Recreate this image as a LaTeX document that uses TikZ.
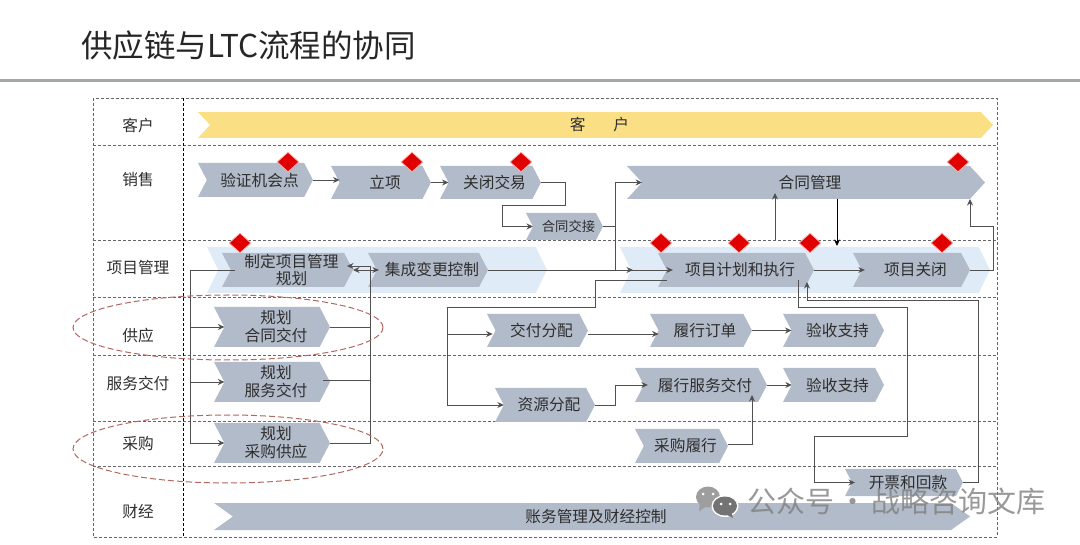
\documentclass[tikz,border=0pt]{standalone}
\usepackage{fontspec}
\usepackage[dvipsnames]{xcolor}
\usetikzlibrary{arrows.meta,shapes.symbols,shapes.geometric,positioning}
\setmainfont{Noto Sans CJK SC}
\definecolor{barGray}{HTML}{B2BBC9}
\definecolor{barYellow}{HTML}{FBDF85}
\definecolor{barBlue}{HTML}{DFECF8}
\definecolor{textDark}{HTML}{2E2E2E}
\definecolor{lineGray}{HTML}{505050}
\definecolor{ruleGray}{HTML}{A3A8AB}
\definecolor{gridGray}{HTML}{666666}
\definecolor{ringRed}{HTML}{B0685F}

\begin{document}
\begin{tikzpicture}[>={Stealth[length=6.5pt,width=6pt]},x=1pt,y=-1pt,
    stage node/.style={signal,signal to=east,signal from=west,signal pointer angle=125,fill=barGray,draw=none,
        inner sep=0pt,outer sep=0pt,align=center,text=textDark,font=\fontsize{15.7}{18}\selectfont,
        execute at begin node={\hspace*{8pt}}},
    back node/.style={stage node,fill=barBlue,signal pointer angle=128},
    row node/.style={text=textDark,font=\fontsize{15.7}{18}\selectfont,inner sep=0pt},
    gate node/.style={diamond,fill=red!88!black,draw=red!30,line width=.8pt,minimum width=22pt,minimum height=20pt,inner sep=0pt},
    into/.style={shorten >=-#1pt},
    flow/.style={->,lineGray,line width=.95pt},
    plain/.style={lineGray,line width=.95pt},
    grid line/.style={gridGray,densely dashed,line width=.8pt},
    ring/.style={ellipse,draw=ringRed,dash pattern=on 6pt off 3pt,line width=1pt,minimum width=310pt,inner sep=0pt}]
    \useasboundingbox (0,0) rectangle (1080,545);

    % title
    \node[anchor=west,inner sep=0pt,font=\fontsize{31.5}{35}\selectfont,text=black!85] (title) at (81,46) {供应链与LTC流程的协同};
    \draw[ruleGray,line width=3pt] (0,81) -- (1080,81);

    % swimlanes
    \draw[grid line] (93,98) rectangle (997,537);
    \foreach \y in {145,240,297,355,421,466}
        \draw[grid line] (93,\y) -- (997,\y);
    \draw[grid line,black] (183,98) -- (183,537);

    \node[row node] (rowCust) at (138,126) {客户};
    \node[row node] (rowSales) at (138,180) {销售};
    \node[row node] (rowProj) at (138,268) {项目管理};
    \node[row node] (rowSupply) at (138,336) {供应};
    \node[row node] (rowServ) at (138,383) {服务交付};
    \node[row node] (rowBuy) at (138,444) {采购};
    \node[row node] (rowFin) at (138,512) {财经};

    % light bands behind the project row
    \node[back node,minimum width=340pt,minimum height=46pt] (bandA) at (377,270) {};
    \node[back node,minimum width=370pt,minimum height=46pt] (bandB) at (805,270) {};

    \node[stage node,fill=barYellow,signal pointer angle=94,minimum width=795pt,minimum height=26pt,
        execute at begin node={}] (customer) at (595.5,125) {客\hspace{28pt}户};

    % sales
    \node[stage node,minimum width=115pt,minimum height=34pt] (verify) at (255.5,180) {验证机会点};
    \node[stage node,minimum width=100pt,minimum height=33pt] (approve) at (381,182.5) {立项};
    \node[stage node,minimum width=101pt,minimum height=33pt] (closeDeal) [right of=approve,node distance=109.5pt] {关闭交易};
    \node[stage node,minimum width=77pt,minimum height=27pt,font=\fontsize{13.3}{15}\selectfont] (handover) at (564.5,226.5) {合同交接};
    \node[stage node,signal pointer angle=95,minimum width=358pt,minimum height=33pt] (contract) at (806,182.5) {合同管理};

    % project
    \node[stage node,minimum width=131pt,minimum height=34pt,font=\fontsize{15.7}{17}\selectfont] (planProj) at (287.5,270) {制定项目管理\\规划};
    \node[stage node,minimum width=116pt,minimum height=34pt] (changeCtrl) at (428,270) {集成变更控制};
    \node[stage node,minimum width=156pt,minimum height=34pt] (execProj) at (736,270) {项目计划和执行};
    \node[stage node,minimum width=117pt,minimum height=34pt] (closeProj) at (911.5,270) {项目关闭};

    % planning column
    \node[stage node,minimum width=116pt,minimum height=40pt] (planDeliver) at (272,327) {规划\\合同交付};
    \node[stage node,minimum width=116pt,minimum height=40pt] (planService) at (272,382) {规划\\服务交付};
    \node[stage node,minimum width=116pt,minimum height=40pt] (planBuy) at (272,443) {规划\\采购供应};

    % delivery
    \node[stage node,minimum width=101pt,minimum height=33pt] (allocDeliver) at (537.5,330.5) {交付分配};
    \node[stage node,minimum width=100pt,minimum height=34pt] (allocRes) at (545,405) {资源分配};
    \node[stage node,minimum width=102pt,minimum height=33pt] (fulfilOrder) at (701,330.5) {履行订单};
    \node[stage node,minimum width=101pt,minimum height=33pt] (acceptA) [right of=fulfilOrder,node distance=132.5pt] {验收支持};
    \node[stage node,minimum width=132pt,minimum height=34pt] (fulfilServ) at (701,385) {履行服务交付};
    \node[stage node,minimum width=101pt,minimum height=34pt] (acceptB) at (833.5,385) {验收支持};
    \node[stage node,minimum width=93pt,minimum height=34pt] (fulfilBuy) at (681.5,446) {采购履行};
    \node[stage node,minimum width=118pt,minimum height=27pt] (invoice) at (904,482.5) {开票和回款};
    \node[stage node,signal pointer angle=71,minimum width=756pt,minimum height=27pt] (finance) at (592,516.5) {账务管理及财经控制};

    % gates
    \foreach \name/\x/\y in {gA/288/162,gB/412/162,gC/521/162,gD/958/162,gE/240/243,gF/661/243,gG/739/243,gH/810/243,gI/942/243}
        \node[gate node] (\name) at (\x,\y) {};

    % corner points of the connectors
    \coordinate (c1) at (565,205);
    \coordinate (c2) at (502,226.5);
    \coordinate (c3) at (615,226.5);
    \coordinate (c4) at (615,270);
    \coordinate (c6) at (190,270);
    \coordinate (c7) at (595,280);
    \coordinate (c8) at (447,307);
    \coordinate (c9) at (798,280);
    \coordinate (c10) at (907,307);
    \coordinate (c11) at (814,436);
    \coordinate (c12) at (978,300);
    \coordinate (c13) at (807,282);
    \coordinate (c14) at (370,266);
    \coordinate (c15) at (347,266);
    \coordinate (c16) at (633,270);
    \coordinate (c17) at (615,405);
    \coordinate (c18) at (752,444);
    \coordinate (c19) at (993,226);
    \coordinate (c20) at (447,334);
    \coordinate (c21) at (667,280);
    \coordinate (c22) at (235,270);
    \coordinate (c23) at (323,380);
    \coordinate (c24) at (970,226);
    \coordinate (c25) at (775,240);
    \coordinate (c26) at (837,246);

    \path[flow]
        (verify.east) edge (verify.east -| approve.west)
        (approve.east) edge (closeDeal.west)
        (allocDeliver.east |- c20) edge (c20 -| fulfilOrder.west)
        (fulfilOrder.east) edge (acceptA.west)
        (fulfilServ.east) edge (acceptB.west)
        (execProj.east) edge[into=3] (closeProj.west)
        (changeCtrl.east) edge[into=6] (execProj.west)
        (changeCtrl.east) edge (c16)
        (c25) edge[into=6] (c25 |- contract.south)
    ;
    \draw[->,black,line width=.8pt] (c26 |- contract.south) -- (c26);
    \draw[flow] (closeDeal.east) -| (c1) -| (c2) |- (handover.west);
    \draw[flow] (handover.east) -| (c3) |- (contract.west);
    \draw[plain] (c3) -- (c4);

    % planning loop
    \draw[<->,lineGray,line width=.95pt,into=2] (planProj.east) -- (changeCtrl.west);
    \draw[flow] (planBuy.east) -| (c14) -- (c15);
    \draw[plain] (planDeliver.east) -- (planDeliver.east -| c14);
    \draw[plain] (c23) -- (c23 -| c14);
    \draw[flow] (c22) -- (c6) |- (planBuy.west);
    \draw[flow] (planDeliver.west -| c6) -- (planDeliver.west);
    \draw[flow] (planService.west -| c6) -- (planService.west);

    % delivery branches
    \draw[flow] (c21) -- (c7) |- (c8) |- (allocRes.west);
    \draw[flow,shorten >=3pt] (c20) -- (c20 -| allocDeliver.west);
    \draw[flow,into=4] (allocRes.east) -| (c17) |- (fulfilServ.west);
    \draw[flow,into=7] (fulfilBuy.east |- c18) -- (c18) -- (fulfilServ.south -| c18);

    % billing and closure
    \draw[flow,into=3] (c9) |- (c10) |- (c11) |- (invoice.west);
    \draw[flow] (invoice.east) -| (c12) -| (c13);
    \draw[flow] (closeProj.east) -| (c19) -- (c24) -- (c24 |- contract.south);

    % highlighted rows
    \node[ring,minimum height=65pt] (ringSupply) at (228,327.5) {};
    \node[ring,minimum height=68pt] (ringBuy) at (228,449) {};

    % account mark
    \fill[black!38] (708,497) ellipse (12pt and 10.5pt);
    \fill[black!38] (700,503) -- (699,511) -- (707,506) -- cycle;
    \fill[white] (725,506) ellipse (13.5pt and 11pt);
    \fill[black!55] (725,506) ellipse (12pt and 9.5pt);
    \fill[black!55] (731,512) -- (733,518) -- (725,514) -- cycle;
    \foreach \x/\y in {703/494,713/494,721/504,730/504}
        \fill[white] (\x,\y) circle (1.5pt);
    \node[anchor=west,inner sep=0pt,text=black!50,opacity=.8,font=\fontsize{29}{32}\selectfont] (mark) at (747,502) {公众号\makebox[37pt]{·}战略咨询文库};
\end{tikzpicture}
\end{document}
